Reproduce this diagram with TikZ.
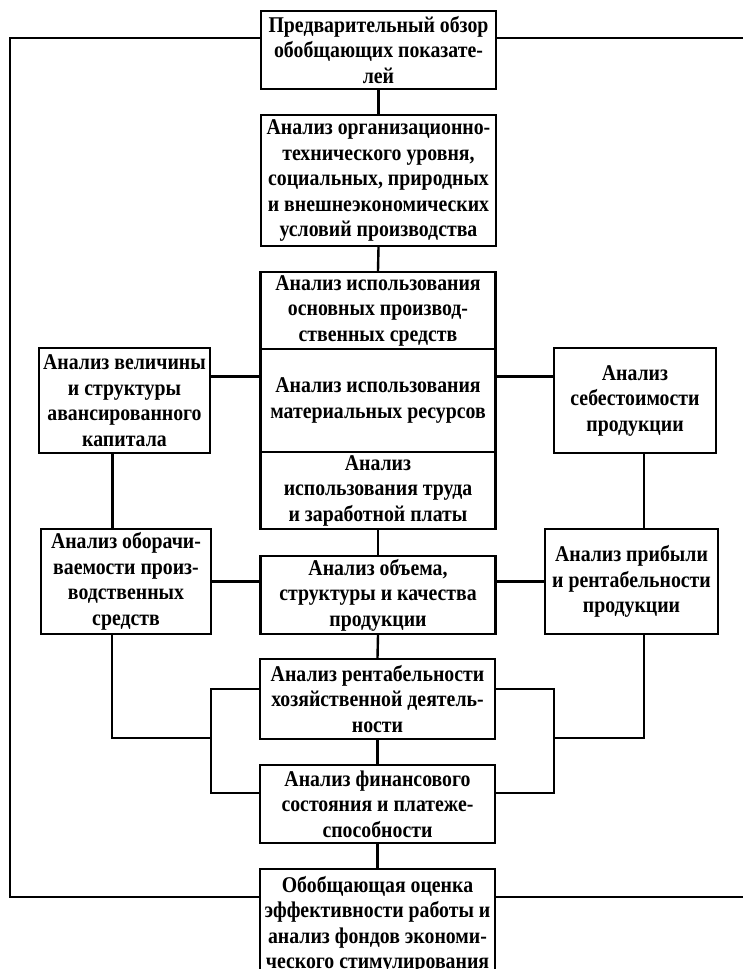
\documentclass[tikz,border=0pt]{standalone}
\usepackage{fontspec}
\setmainfont{Liberation Serif}[FakeStretch=0.88]
\usepackage{tikz}
\tikzset{every path/.style={black, line width=2.4pt},
  blk/.style={draw, align=center, inner sep=0pt, minimum width=235pt,
    font=\fontsize{22.5}{25.5}\selectfont\bfseries},
  side/.style={blk, minimum width=170pt, minimum height=105pt}}

\begin{document}
\begin{tikzpicture}[x=1pt,y=1pt]
  \useasboundingbox (0,0) rectangle (743,-969);
  \node[blk, minimum height=78pt]  (obzor) at (378.5,-50)  {Предварительный обзор\\обобщающих показате-\\лей};
  \node[blk, minimum height=131pt] (org)   at (378.5,-180.5) {Анализ организационно-\\технического уровня,\\социальных, природных\\и внешнеэкономических\\условий производства};
  \node[blk, minimum height=77pt]  (osn)   at (378,-310.5) {Анализ использования\\основных производ-\\ственных средств};
  \node[blk, minimum height=103pt] (mat)   at (378,-400.5) {Анализ использования\\материальных ресурсов};
  \node[blk, minimum height=77pt]  (trud)  at (378,-490.5) {Анализ\\использования труда\\и заработной платы};
  \node[side, minimum width=171pt] (velich) at (124.5,-400.5) {Анализ величины\\и структуры\\авансированного\\капитала};
  \node[side, minimum width=162pt] (sebest) at (635,-400.5) {Анализ\\себестоимости\\продукции};
  \node[side] (oborach) at (126,-581.5) {Анализ оборачи-\\ваемости произ-\\водственных\\средств};
  \node[blk, minimum height=78pt]  (obem)  at (378,-595) {Анализ объема,\\структуры и качества\\продукции};
  \node[side, minimum width=173pt] (pribyl) at (631.5,-581.5) {Анализ прибыли\\и рентабельности\\продукции};
  \node[blk, minimum height=80pt]  (rent)  at (377.5,-699) {Анализ рентабельности\\хозяйственной деятель-\\ности};
  \node[blk, minimum height=78pt]  (fin)   at (377.5,-804) {Анализ финансового\\состояния и платеже-\\способности};
  \node[blk, minimum height=112pt] (itog)  at (377.5,-925) {Обобщающая оценка\\эффективности работы и\\анализ фондов экономи-\\ческого стимулирования};
  \coordinate (lbr) at (211,-689);
  \coordinate (rbr) at (554,-689);
  \coordinate (lj)  at (211,-738);
  \coordinate (rj)  at (554,-738);
  \coordinate (tl)  at (10,-38);
  \coordinate (bl)  at (10,-897);
  \coordinate (tr)  at (743,-38);
  \coordinate (br)  at (743,-897);
  \draw (obzor.south) -- (org.north);
  \draw (org.south) -- (osn.north);
  \draw (trud.south) -- (obem.north);
  \draw (obem.south) -- (rent.north);
  \draw (rent.south) -- (fin.north);
  \draw (fin.south) -- (itog.north);
  \draw ([yshift=24pt]velich.east) -- ([yshift=24pt]velich.east -| mat.west);
  \draw ([yshift=24pt]sebest.west) -- ([yshift=24pt]sebest.west -| mat.east);
  \draw ([xshift=-12pt]velich.south) -- ([xshift=-12pt]velich.south |- oborach.north);
  \draw ([xshift=9pt]sebest.south) -- ([xshift=9pt]sebest.south |- pribyl.north);
  \draw (oborach.east) -- (oborach.east -| obem.west);
  \draw (pribyl.west) -- (pribyl.west -| obem.east);
  \draw ([xshift=-14pt]oborach.south) |- (lj);
  \draw ([xshift=12.5pt]pribyl.south) |- (rj);
  \draw ([yshift=10pt]rent.west) -- (lbr) |- ([yshift=11pt]fin.west);
  \draw ([yshift=10pt]rent.east) -- (rbr) |- ([yshift=11pt]fin.east);
  \draw ([yshift=12pt]obzor.west) -- (tl) -- (bl) -- (bl -| itog.west);
  \draw ([yshift=12pt]obzor.east) -- (tr);
  \draw ([yshift=28pt]itog.east) -- (br);
\end{tikzpicture}
\end{document}
